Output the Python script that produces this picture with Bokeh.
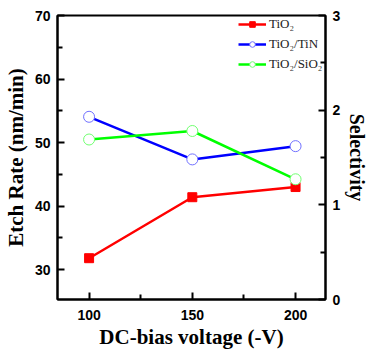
from bokeh.plotting import figure
from bokeh.models import Range1d, LinearAxis, Legend, LegendItem, FixedTicker, Title
from bokeh.embed import file_html
from bokeh.resources import INLINE

# Data
voltage = [100, 150, 200]
etch_tio2 = [31.8, 41.4, 43.0]
sel_tin = [1.93, 1.48, 1.62]
sel_sio2 = [1.69, 1.78, 1.27]

x_ticks = [100, 150, 200]
x_minor = [125, 175]
left_ticks = [30, 40, 50, 60, 70]
right_ticks = [0, 1, 2, 3]

p = figure(width=367, height=352, output_backend="svg", toolbar_location=None,
           x_range=Range1d(84.7, 214.5), y_range=Range1d(25.3, 70),
           min_border_left=56, min_border_right=0, min_border_top=15, min_border_bottom=53)
p.extra_y_ranges = {"sel": Range1d(0, 3)}
p.grid.visible = False
p.background_fill_color = "white"
p.border_fill_color = "white"
p.outline_line_color = "black"
p.outline_line_width = 2

tick_font = "Liberation Sans"
label_font = "Liberation Serif"

def style_axis(ax, label, major, minor_count):
    ax.axis_label = label
    ax.axis_label_text_font = label_font
    ax.axis_label_text_font_style = "bold"
    ax.axis_label_text_font_size = "21px"
    ax.axis_label_text_color = "black"
    ax.major_label_text_font = tick_font
    ax.major_label_text_font_style = "bold"
    ax.major_label_text_font_size = "14px"
    ax.major_label_text_color = "black"
    ax.ticker = FixedTicker(ticks=major, minor_ticks=minor_count)
    ax.major_tick_in = 7
    ax.major_tick_out = 0
    ax.minor_tick_in = 5
    ax.minor_tick_out = 0
    ax.axis_line_width = 2
    ax.major_tick_line_width = 2
    ax.minor_tick_line_width = 2
    ax.axis_line_color = "black"

style_axis(p.xaxis[0], "DC-bias voltage (-V)", x_ticks, x_minor)
style_axis(p.yaxis[0], "Etch Rate (nm/min)", left_ticks, [35, 45, 55, 65])
p.xaxis[0].major_label_standoff = 10
p.xaxis[0].axis_label_standoff = 2
p.yaxis[0].major_label_standoff = 7
p.yaxis[0].axis_label_standoff = 4

raxis = LinearAxis(y_range_name="sel")
style_axis(raxis, None, right_ticks, [0.5, 1.5, 2.5])
raxis.major_label_standoff = 7
p.add_layout(raxis, "right")

# right-hand axis title, read top to bottom
sel_title = Title(text="Selectivity", align="center", standoff=0, offset=0,
                  vertical_align="top",
                  text_font=label_font, text_font_style="bold",
                  text_font_size="20px", text_color="black")
p.add_layout(sel_title, "right")

r1l = p.line(voltage, etch_tio2, line_color="#ff0000", line_width=2.5)
r1m = p.scatter(voltage, etch_tio2, marker="square", size=9, fill_color="#ff0000", line_color="#ff0000")
r2l = p.line(voltage, sel_tin, line_color="#0000ff", line_width=2.5, y_range_name="sel")
r2m = p.scatter(voltage, sel_tin, marker="circle", size=11, fill_color="white", line_color="#7070ff", line_width=1, y_range_name="sel")
r3l = p.line(voltage, sel_sio2, line_color="#00ff00", line_width=2.5, y_range_name="sel")
r3m = p.scatter(voltage, sel_sio2, marker="circle", size=11, fill_color="white", line_color="#70ff70", line_width=1, y_range_name="sel")

legend = Legend(items=[
    LegendItem(label="TiO\u2082", renderers=[r1l, r1m]),
    LegendItem(label="TiO\u2082/TiN", renderers=[r2l, r2m]),
    LegendItem(label="TiO\u2082/SiO\u2082", renderers=[r3l, r3m]),
], location=(181, 227))
legend.background_fill_alpha = 0
legend.border_line_alpha = 0
legend.label_text_font = label_font
legend.label_text_font_size = "13px"
legend.label_text_color = "#222222"
legend.glyph_width = 28
legend.glyph_height = 14
legend.spacing = 4
legend.padding = 0
legend.margin = 0
legend.label_standoff = 3
p.add_layout(legend, "center")

open("out.html", "w").write(file_html(p, INLINE))
